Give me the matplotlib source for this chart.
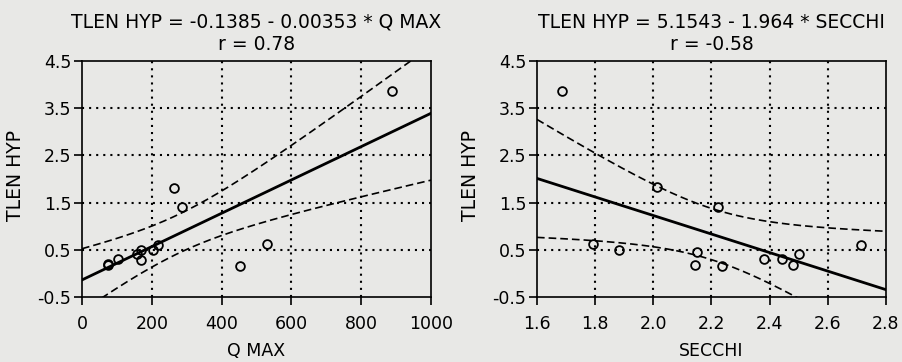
import numpy as np
import matplotlib.pyplot as plt

# TLEN HYP against peak discharge and Secchi depth
q_max = [75, 75, 104, 157, 169, 169, 204, 219, 265, 288, 453, 529, 887]
tlen_q = [0.17, 0.20, 0.31, 0.41, 0.29, 0.49, 0.50, 0.60, 1.80, 1.40, 0.16, 0.63, 3.86]

secchi = [1.686, 1.791, 1.883, 2.013, 2.143, 2.152, 2.224, 2.235, 2.382, 2.442,
          2.481, 2.502, 2.714]
tlen_s = [3.87, 0.63, 0.49, 1.82, 0.17, 0.45, 1.40, 0.16, 0.31, 0.31, 0.17, 0.41, 0.60]

# fitted lines (intercept, slope)
fit_q = (-0.1385, 0.00353)
fit_s = (5.1543, -1.964)

titles = ["TLEN HYP = -0.1385 - 0.00353 * Q MAX\nr = 0.78",
          "TLEN HYP = 5.1543 - 1.964 * SECCHI\nr = -0.58"]
xlabels = ["Q MAX", "SECCHI"]
xticks = [[0, 200, 400, 600, 800, 1000], [1.6, 1.8, 2.0, 2.2, 2.4, 2.6, 2.8]]
xticklabels = [["0", "200", "400", "600", "800", "1000"],
               ["1.6", "1.8", "2.0", "2.2", "2.4", "2.6", "2.8"]]
yticks = [-0.5, 0.5, 1.5, 2.5, 3.5, 4.5]

T95 = 2.201  # two-sided 95%, 11 df

plt.rcParams['font.family'] = ['DejaVu Sans']
paper = '#e8e8e6'

fig = plt.figure(figsize=(9.02, 3.62), dpi=100, facecolor=paper)
positions = [[0.0909, 0.1796, 0.3869, 0.652], [0.5953, 0.1796, 0.3869, 0.652]]


def conf_band(x, y, a, b, xs):
    x = np.asarray(x, float)
    y = np.asarray(y, float)
    n = len(x)
    resid = y - (a + b * x)
    s = np.sqrt(np.sum(resid ** 2) / (n - 2))
    sxx = np.sum((x - x.mean()) ** 2)
    half = T95 * s * np.sqrt(1.0 / n + (xs - x.mean()) ** 2 / sxx)
    yhat = a + b * xs
    return yhat - half, yhat + half


datasets = [(q_max, tlen_q, fit_q), (secchi, tlen_s, fit_s)]
for i, (x, y, (a, b)) in enumerate(datasets):
    ax = fig.add_axes(positions[i], facecolor=paper)
    lo, hi = xticks[i][0], xticks[i][-1]
    xs = np.linspace(lo, hi, 300)

    # dotted grid on the inner ticks only
    for v in xticks[i][1:-1]:
        ax.axvline(v, color='k', lw=1.5, ls=(0, (1, 2.4)), zorder=1)
    for v in yticks[1:-1]:
        ax.axhline(v, color='k', lw=1.5, ls=(0, (1, 2.4)), zorder=1)

    ax.plot(xs, a + b * xs, color='k', lw=2.0, zorder=3)
    band_lo, band_hi = conf_band(x, y, a, b, xs)
    ax.plot(xs, band_lo, color='k', lw=1.2, ls=(0, (4.6, 2.4)), zorder=3)
    ax.plot(xs, band_hi, color='k', lw=1.2, ls=(0, (4.6, 2.4)), zorder=3)

    ax.plot(x, y, 'o', ms=6.3, mfc='none', mec='k', mew=1.3, zorder=4)

    ax.set_xlim(lo, hi)
    ax.set_ylim(-0.5, 4.5)
    ax.set_xticks(xticks[i])
    ax.set_xticklabels(xticklabels[i])
    ax.set_yticks(yticks)
    ax.set_yticklabels([f"{v:.1f}" for v in yticks])
    ax.tick_params(direction='out', length=5.8, width=1.2, labelsize=12.5,
                   colors='k')
    ax.tick_params(axis='x', pad=7)
    ax.tick_params(axis='y', pad=2)
    for sp in ax.spines.values():
        sp.set_linewidth(1.2)

    ax.set_title(titles[i], fontsize=13.5, pad=8)
    ax.set_xlabel(xlabels[i], fontsize=12.5)
    ax.set_ylabel("TLEN HYP", fontsize=13.5)
    ax.xaxis.set_label_coords(0.5, -0.19)
    ax.yaxis.set_label_coords(-0.163, 0.513)

fig.savefig("out.png", dpi=100, facecolor=paper)
